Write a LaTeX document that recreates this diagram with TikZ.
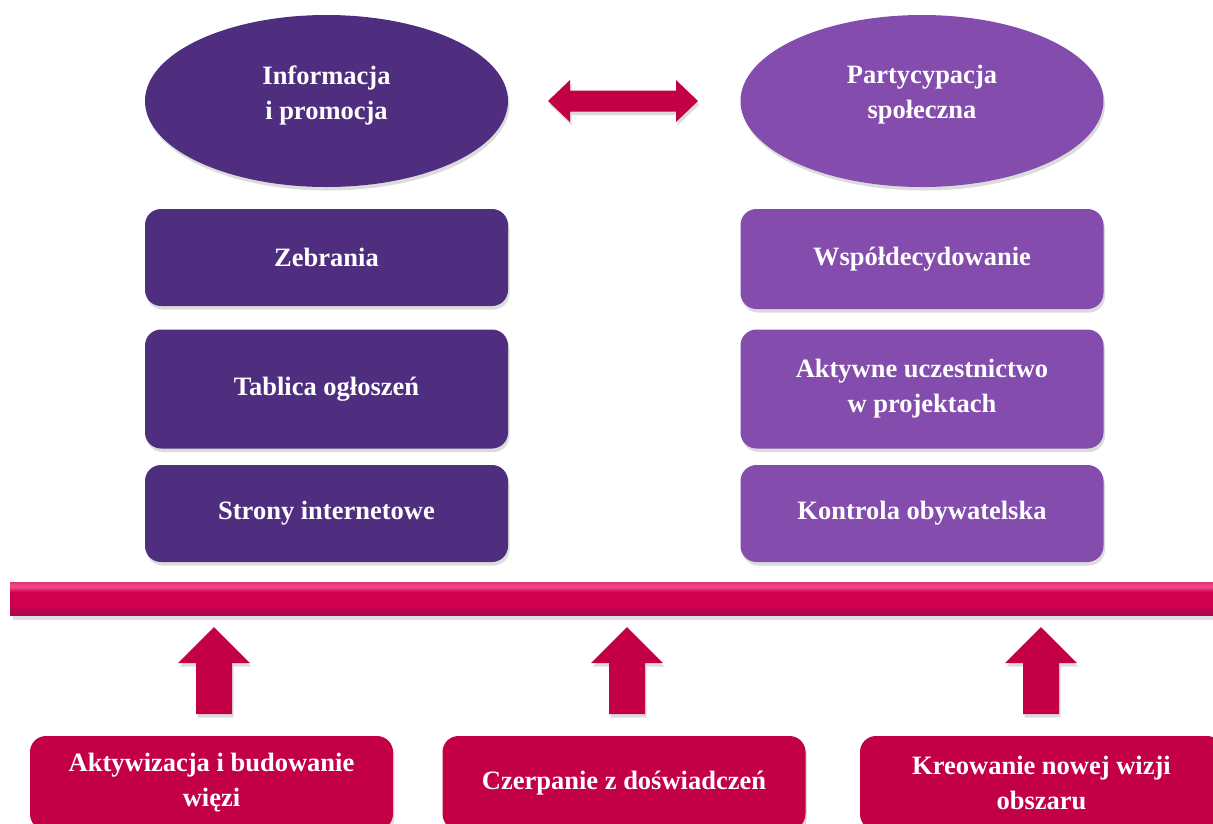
\documentclass[tikz,border=0pt]{standalone}
\usepackage{fontspec}
\setmainfont{Liberation Serif}
\usepackage{xcolor}
\usetikzlibrary{positioning,shapes,shadows,calc}

\definecolor{ciemnyfiolet}{HTML}{4F2D7F}
\definecolor{jasnyfiolet}{HTML}{834CAD}
\definecolor{malina}{HTML}{C30045}
\definecolor{belkagora}{HTML}{EE4585}
\definecolor{belkasrodek}{HTML}{D0004F}
\definecolor{belkadol}{HTML}{A00A4A}
% tikz rozciaga srodek (25bp--75bp) na wysokosc belki
\pgfdeclareverticalshading{belka}{100bp}{color(0bp)=(belkadol);
  color(25bp)=(belkadol); color(30bp)=(belkadol!60!belkasrodek);
  color(40bp)=(belkasrodek); color(60bp)=(belkasrodek);
  color(67bp)=(belkagora); color(71bp)=(belkagora);
  color(75bp)=(belkasrodek!80!white); color(100bp)=(belkasrodek!80!white)}

\begin{document}
\begin{tikzpicture}[x=1pt,y=-1pt,
        Cien/.style = { drop shadow = {shadow xshift=1.5pt,
          shadow yshift=-3.5pt, opacity=.3, fill=black!45} },
        Napis/.style = { text = white, align = center,
          font = \fontsize{26.5}{35}\selectfont\bfseries },
        Owal/.style = { ellipse, Cien, minimum width = 363,
          minimum height = 172, inner sep = 0pt },
        Skrzynka/.style = { rectangle, rounded corners = 16, Cien, Napis,
          minimum width = 363, inner sep = 0pt },
        Strzalka/.style = { fill = malina, Cien }
      ]
      \clip (0,0) rectangle (1213,823);
      % gorne owale
      \node[Owal, fill=ciemnyfiolet] (info) at (326.5,101) {};
      \node[Napis] (infot) at ($(info.center)+(0,-6)$) {Informacja\\i promocja};
      \node[Owal, fill=jasnyfiolet] (part) at (922,101) {};
      \node[Napis] (partt) at ($(part.center)+(0,-6)$) {Partycypacja\\społeczna};
      \fill[Strzalka] (548,101) -- (570,80) -- (570,90.5) -- (676,90.5)
        -- (676,80) -- (698,101) -- (676,122) -- (676,111.5)
        -- (570,111.5) -- (570,122) -- cycle;
      % lewa kolumna
      \node[Skrzynka, fill=ciemnyfiolet, minimum height=97]  (zebr) at (326.5,257.5) {Zebrania};
      \node[Skrzynka, fill=ciemnyfiolet, minimum height=119] (tabl) at (326.5,389) {Tablica ogłoszeń};
      \node[Skrzynka, fill=ciemnyfiolet, minimum height=97]  (stro) at (326.5,513.5) {Strony internetowe};
      % prawa kolumna
      \node[Skrzynka, fill=jasnyfiolet, minimum height=100] (wspo) at (922,259) {Współdecydowanie};
      \node[Skrzynka, fill=jasnyfiolet, minimum height=119] (akty) at (922,389) {Aktywne uczestnictwo\\w projektach};
      \node[Skrzynka, fill=jasnyfiolet, minimum height=97]  (kont) at (922,513.5) {Kontrola obywatelska};
      % belka
      \fill[black!40, opacity=.3] (13,586) rectangle (1225,620);
      \shade[shading=belka] (10,582) rectangle (1225,615);
      % dolne skrzynki
      \node[Skrzynka, fill=malina, minimum height=94] (akt) at (211.5,783) {Aktywizacja i budowanie\\więzi};
      \node[Skrzynka, fill=malina, minimum height=94] (czer) at (624,783) {Czerpanie z doświadczeń};
      \node[Skrzynka, fill=malina, minimum height=94] (kreo) at (1041.5,783) {Kreowanie nowej wizji\\obszaru};
      % strzalki w gore
      \foreach \x in {214,627,1041}
        \fill[Strzalka] (\x-18,714) -- (\x-18,663) -- (\x-36,663) -- (\x,627)
          -- (\x+36,663) -- (\x+18,663) -- (\x+18,714) -- cycle;
    \end{tikzpicture}
\end{document}
